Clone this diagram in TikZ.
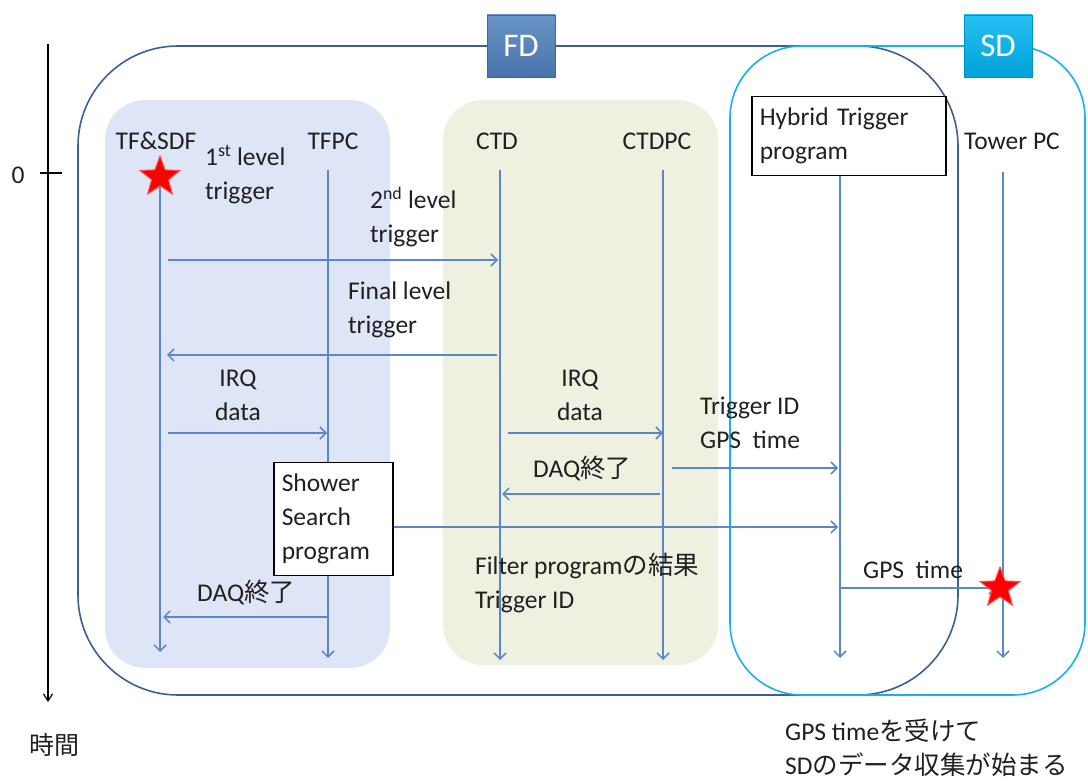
\documentclass[tikz,border=0pt]{standalone}
\usepackage{fontspec}
\setmainfont{Carlito}
\newfontfamily\jp{Noto Sans CJK JP}
\usetikzlibrary{arrows.meta,shapes.geometric}
\definecolor{lifec}{HTML}{5B87C8}
\definecolor{fdline}{HTML}{3D5F94}
\definecolor{sdline}{HTML}{1AB0EC}
\definecolor{bluepanel}{HTML}{DEE5F6}
\definecolor{greenpanel}{HTML}{EEF0E0}
\definecolor{txtc}{HTML}{202020}
\definecolor{fdfill}{HTML}{4F81BD}
\definecolor{sdfill}{HTML}{00B4F0}
\begin{document}
\begin{tikzpicture}[x=1pt,y=-1pt,
  life/.style={draw=lifec, line width=1.5pt, -{Straight Barb[length=6pt,width=12pt]}},
  msg/.style={draw=lifec, line width=1.5pt, -{Straight Barb[length=6pt,width=12pt]}},
  txt/.style={font=\fontsize{25.5}{34}\selectfont, text=txtc, inner sep=0pt, align=left},
  jtxt/.style={font=\fontsize{23}{34}\selectfont},
  redstar/.style={star, star points=5, star point ratio=2.4, fill=red, draw=red!70!white, line width=1pt, minimum size=42pt, inner sep=0pt},
  prog/.style={draw=black, line width=1.5pt, fill=white, align=left, font=\fontsize{25.5}{34}\selectfont, text=txtc, inner xsep=8pt, anchor=north west},
  tag/.style={draw=#1!80!black, top color=#1!85!white, bottom color=#1!90!black, text=white, font=\fontsize{33}{33}\selectfont, minimum width=68pt, minimum height=62pt, inner sep=0pt},
  frame/.style={line width=1.6pt}
]
\useasboundingbox (0,0) rectangle (1088,783);

% panels
\fill[bluepanel, rounded corners=40pt] (105,100) rectangle (390,668);
\fill[greenpanel, rounded corners=40pt] (443,100) rectangle (718,665);

% outer frames
\draw[frame, fdline, rounded corners=100pt] (78,46) rectangle (958,695);
\draw[frame, sdline, rounded corners=72pt] (730,46) rectangle (1085,695);

% group tags
\node[tag=fdfill] (fd) at (521,46) {FD};
\node[tag=sdfill] (sd) at (998,46) {SD};

% time axis
\coordinate (ttop) at (48,44);
\coordinate (tbot) at (48,702);
\draw[line width=1.2pt, black, -{Straight Barb[length=7pt,width=9pt]}] (ttop) -- (tbot);
\coordinate (tick1) at (40,173);
\coordinate (tick2) at (62,173);
\draw[line width=1.2pt] (tick1) -- (tick2);
\node[txt] (zero) at (18,175) {0};
\node[txt, font=\fontsize{25}{30}\selectfont\jp] (jikan) at (54,745) {時間};

% lifeline heads
\node[txt] (h1) at (156,141) {TF\&SDF};
\node[txt] (h2) at (333,141) {TFPC};
\node[txt] (h3) at (497,141) {CTD};
\node[txt] (h4) at (657,141) {CTDPC};
\node[txt] (h5) at (1012,141) {Tower PC};
\node[prog, text width=178pt, minimum height=79pt] (hyb) at (751,96) {Hybrid Trigger\\program};

% lifelines
\coordinate (l1t) at (160,178); \coordinate (l1b) at (160,652);
\coordinate (l2t) at (328,170); \coordinate (l2b) at (328,658);
\coordinate (l3t) at (500,170); \coordinate (l3b) at (500,660);
\coordinate (l4t) at (663,170); \coordinate (l4b) at (663,660);
\coordinate (l5b) at (840,658);
\coordinate (l6t) at (1003,172); \coordinate (l6b) at (1003,658);
\draw[life] (l1t) -- (l1b);
\draw[life] (l2t) -- (l2b);
\draw[life] (l3t) -- (l3b);
\draw[life] (l4t) -- (l4b);
\draw[life] (hyb.south -| l5b) -- (l5b);
\draw[life] (l6t) -- (l6b);

% messages
\coordinate (m1s) at (168,260); \coordinate (m1e) at (498,260);
\draw[msg] (m1s) -- (m1e);
\coordinate (m2s) at (497,355); \coordinate (m2e) at (167,355);
\draw[msg] (m2s) -- (m2e);
\coordinate (m3s) at (168,433); \coordinate (m3e) at (327,433);
\draw[msg] (m3s) -- (m3e);
\coordinate (m4s) at (508,433); \coordinate (m4e) at (663,433);
\draw[msg] (m4s) -- (m4e);
\coordinate (m5s) at (672,468); \coordinate (m5e) at (838,468);
\draw[msg] (m5s) -- (m5e);
\coordinate (m6s) at (660,494); \coordinate (m6e) at (502,494);
\draw[msg] (m6s) -- (m6e);
\node[prog, text width=103pt, minimum height=113pt] (shower) at (273,462) {Shower\\Search\\program};
\coordinate (m7e) at (838,527);
\draw[msg] (shower.east |- m7e) -- (m7e);
\coordinate (m8s) at (840,588); \coordinate (m8e) at (996,588);
\draw[msg] (m8s) -- (m8e);
\coordinate (m9s) at (328,617); \coordinate (m9e) at (163,617);
\draw[msg] (m9s) -- (m9e);

% stars
\node[redstar] (s1) at (160,177) {};
\node[redstar] (s2) at (1000,588) {};

% labels
\node[txt, anchor=north west] (t1) at (205,145) {1\textsuperscript{st} level\\trigger};
\node[txt, anchor=north west] (t2) at (370,187) {2\textsuperscript{nd} level\\trigger};
\node[txt, anchor=north west] (t3) at (348,282) {Final level\\trigger};
\node[txt, anchor=north, align=center] (t4) at (238,370) {IRQ\\data};
\node[txt, anchor=north, align=center] (t5) at (580,370) {IRQ\\data};
\node[txt, anchor=north west] (t6) at (700,397) {Trigger ID\\GPS\ \ time};
\node[txt, anchor=west] (t7) at (533,468) {DAQ{\jp 終了}};
\node[txt, anchor=north west] (t8) at (475,553) {Filter program{\jp の結果}\\Trigger ID};
\node[txt, anchor=west] (t9) at (863,570) {GPS\ \ time};
\node[txt, anchor=west] (t10) at (197,592) {DAQ{\jp 終了}};
\node[txt, anchor=north west] (t11) at (785,719) {GPS time{\jp を受けて}\\SD{\jp のデータ収集が始まる}};
\end{tikzpicture}
\end{document}
